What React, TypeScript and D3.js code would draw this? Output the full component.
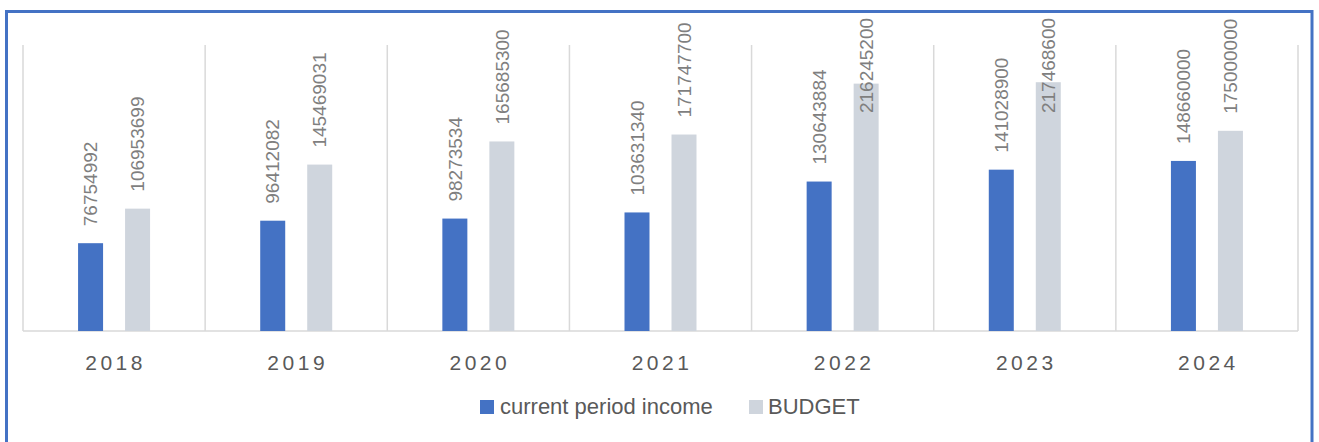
import React from "react";
import * as d3 from "d3";

const years = ["2018", "2019", "2020", "2021", "2022", "2023", "2024"];
const income = [76754992, 96412082, 98273534, 103631340, 130643884, 141028900, 148660000];
const budget = [106953699, 145469031, 165685300, 171747700, 216245200, 217468600, 175000000];
const seriesNames = ["current period income", "BUDGET"];
const seriesColors = ["#4472C4", "#CFD5DD"];

const W = 1319;
const H = 442;
const FONT = "'Liberation Sans', Arial, sans-serif";

export default function App() {
  const x0 = d3.scaleBand<string>().domain(years).range([23, 1298]).padding(0);
  const x1 = d3
    .scaleBand<string>()
    .domain(seriesNames)
    .range([-36, 36])
    .paddingInner(22 / 47)
    .paddingOuter(0);
  const y = d3.scaleLinear().domain([0, 250000000]).range([331, 45]);
  const series = [income, budget];

  const labelSize = 19;
  const digitW = 10.45;
  const minTop = 19;

  const boundaries = [...years.map((yr) => x0(yr) as number), x0.range()[1]];

  return (
    <svg
      width={W}
      height={H}
      style={{ position: "absolute", left: 0, top: 0, background: "#fff" }}
      fontFamily={FONT}
    >
      <rect x={0} y={0} width={W} height={H} fill="#fff" />
      <rect x={6.5} y={11.5} width={1305.5} height={460} fill="#fff" stroke="#4472C4" strokeWidth={3} />
      {boundaries.map((bx, i) => (
        <line key={"g" + i} x1={bx} x2={bx} y1={45} y2={y(0)} stroke="#D9D9D9" strokeWidth={1.5} />
      ))}
      <line x1={x0.range()[0]} x2={x0.range()[1]} y1={y(0)} y2={y(0)} stroke="#D9D9D9" strokeWidth={1.5} />
      {years.map((yr, i) =>
        series.map((s, si) => {
          const cx = (x0(yr) as number) + x0.bandwidth() / 2;
          const bx = cx + (x1(seriesNames[si]) as number);
          const top = y(s[i]);
          return (
            <rect
              key={yr + si}
              x={bx}
              y={top}
              width={x1.bandwidth()}
              height={y(0) - top}
              fill={seriesColors[si]}
            />
          );
        })
      )}
      {years.map((yr, i) =>
        series.map((s, si) => {
          const cx = (x0(yr) as number) + x0.bandwidth() / 2;
          const bc = cx + (x1(seriesNames[si]) as number) + x1.bandwidth() / 2;
          const text = String(s[i]);
          const len = text.length * digitW;
          let bottom = y(s[i]) - 17;
          if (bottom - len < minTop) bottom = minTop + len;
          return (
            <text
              key={"l" + yr + si}
              transform={`translate(${bc},${bottom}) rotate(-90)`}
              dy="0.35em"
              fontSize={labelSize}
              fill="#7F7F7F"
              textAnchor="start"
            >
              {text}
            </text>
          );
        })
      )}
      {years.map((yr) => (
        <text
          key={"x" + yr}
          x={(x0(yr) as number) + x0.bandwidth() / 2 + 1.5}
          y={370}
          fontSize={21}
          letterSpacing={3.5}
          fill="#595959"
          textAnchor="middle"
        >
          {yr}
        </text>
      ))}
      <rect x={480} y={400} width={14} height={14} fill={seriesColors[0]} />
      <text x={500} y={414} fontSize={22} fill="#595959">
        {seriesNames[0]}
      </text>
      <rect x={749} y={400} width={14} height={14} fill={seriesColors[1]} />
      <text x={768} y={414} fontSize={22} fill="#595959">
        {seriesNames[1]}
      </text>
    </svg>
  );
}
